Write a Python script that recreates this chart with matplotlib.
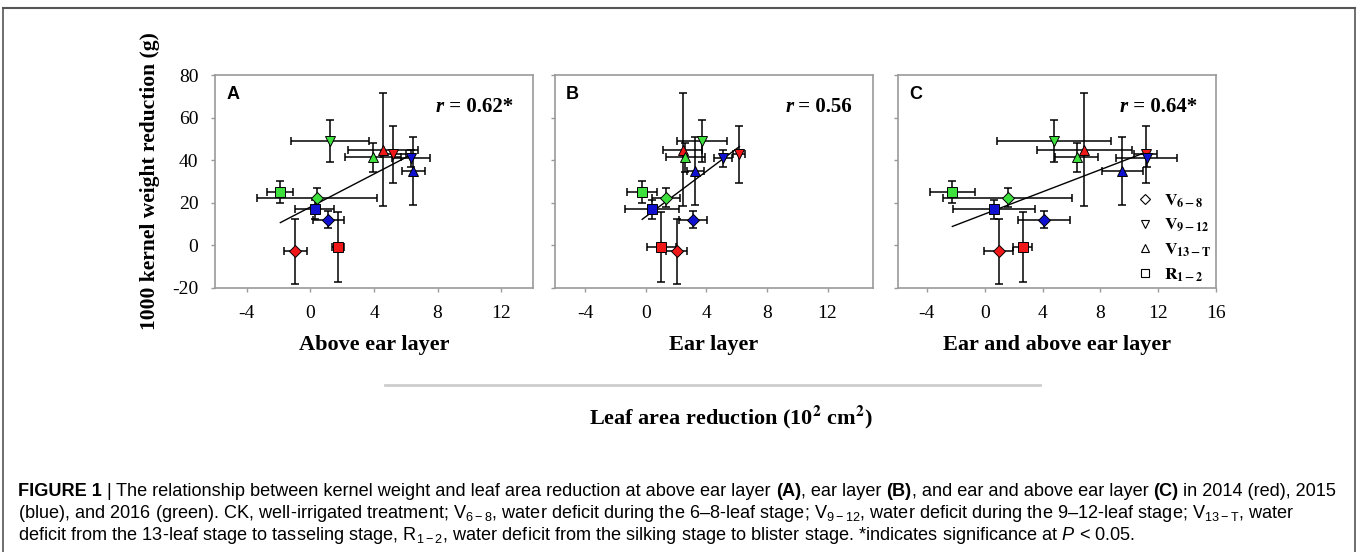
import matplotlib
matplotlib.use('Agg')
import matplotlib.pyplot as plt
from matplotlib.lines import Line2D
from matplotlib import font_manager as fm
from matplotlib.transforms import IdentityTransform
import numpy as np

# ---------------- data ----------------
stages = ['V6-8', 'V9-12', 'V13-T', 'R1-2']
stage_markers = ['D', 'v', '^', 's']
years = ['2014', '2015', '2016']
year_colors = ['#f01818', '#1010d0', '#3ee03e']

# 1000 kernel weight reduction (g), order: V6-8, V9-12, V13-T, R1-2
kwr_2014 = [-2.8, 42.7, 45.0, -0.7]
kwr_2015 = [12.1, 40.8, 34.9, 17.0]
kwr_2016 = [22.3, 49.0, 41.3, 25.1]
kwr_err_2014 = [15.3, 13.5, 26.4, 16.5]
kwr_err_2015 = [4.0, 4.0, 16.0, 4.5]
kwr_err_2016 = [4.5, 9.7, 7.0, 5.0]

# leaf area reduction (10^2 cm^2) - above ear layer
la_above_2014 = [-0.95, 5.22, 4.59, 1.73]
la_above_2015 = [1.12, 6.32, 6.48, 0.27]
la_above_2016 = [0.42, 1.26, 3.94, -1.89]
la_above_err_2014 = [0.72, 0.8, 2.2, 0.37]
la_above_err_2015 = [0.97, 1.2, 0.72, 1.23]
la_above_err_2016 = [3.8, 2.45, 1.74, 0.82]

# ear layer
la_ear_2014 = [2.04, 6.18, 2.44, 1.02]
la_ear_2015 = [3.11, 5.07, 3.27, 0.40]
la_ear_2016 = [1.31, 3.71, 2.60, -0.24]
la_ear_err_2014 = [0.7, 0.4, 1.3, 0.97]
la_ear_err_2015 = [0.93, 0.6, 0.58, 1.77]
la_ear_err_2016 = [0.92, 1.63, 1.3, 0.98]

# ear and above ear layer
la_both_2014 = [0.98, 11.15, 6.9, 2.63]
la_both_2015 = [4.09, 11.2, 9.53, 0.62]
la_both_2016 = [1.6, 4.8, 6.35, -2.24]
la_both_err_2014 = [1.0, 0.8, 3.3, 0.64]
la_both_err_2015 = [1.78, 2.1, 1.45, 2.83]
la_both_err_2016 = [4.46, 3.97, 1.5, 1.54]

panel_letters = ['A', 'B', 'C']
panel_r = ['0.62*', '0.56', '0.64*']
panel_xlabels = ['Above ear layer', 'Ear layer', 'Ear and above ear layer']
panel_xlims = [(-6, 14), (-6, 15), (-6, 16)]
panel_xticks = [[-4, 0, 4, 8, 12], [-4, 0, 4, 8, 12], [-4, 0, 4, 8, 12, 16]]
yticks = [-20, 0, 20, 40, 60, 80]

kwr = [kwr_2014, kwr_2015, kwr_2016]
kwr_err = [kwr_err_2014, kwr_err_2015, kwr_err_2016]
panel_x = [[la_above_2014, la_above_2015, la_above_2016],
           [la_ear_2014, la_ear_2015, la_ear_2016],
           [la_both_2014, la_both_2015, la_both_2016]]
panel_xerr = [[la_above_err_2014, la_above_err_2015, la_above_err_2016],
              [la_ear_err_2014, la_ear_err_2015, la_ear_err_2016],
              [la_both_err_2014, la_both_err_2015, la_both_err_2016]]

# ---------------- style ----------------
W, H = 1358, 552
SERIF = 'Liberation Serif'
names = {f.name for f in fm.fontManager.ttflist}
CAP = 'Liberation Sans Narrow' if 'Liberation Sans Narrow' in names else 'Liberation Sans'
plt.rcParams['axes.unicode_minus'] = False
plt.rcParams['mathtext.fontset'] = 'custom'
plt.rcParams['mathtext.rm'] = CAP
plt.rcParams['mathtext.it'] = CAP + ':italic'
plt.rcParams['mathtext.bf'] = CAP + ':bold'

fig = plt.figure(figsize=(W / 100, H / 100), dpi=100)
fig.patch.set_facecolor('white')
ID = IdentityTransform()

def px(x, y):
    return x, H - y

ax_left = [215, 555, 898]
ax_w, ax_top, ax_bot = 318, 75, 288
frame_col = '#9a9a9a'
MS_D, MS_O = 6.0, 6.5

for i in range(3):
    ax = fig.add_axes([ax_left[i] / W, (H - ax_bot) / H, ax_w / W, (ax_bot - ax_top) / H])
    for sp in ax.spines.values():
        sp.set_color(frame_col)
        sp.set_linewidth(1.2)
    allx, ally = [], []
    for j in range(3):
        for k in range(4):
            xv, yv = panel_x[i][j][k], kwr[j][k]
            ax.errorbar(xv, yv, xerr=panel_xerr[i][j][k], yerr=kwr_err[j][k],
                        fmt='none', ecolor='black', elinewidth=1.1, capsize=2.6,
                        capthick=1.1, zorder=2)
            ms = MS_D if stage_markers[k] == 'D' else MS_O
            ax.plot(xv, yv, marker=stage_markers[k], ls='none', ms=ms,
                    mfc=year_colors[j], mec='black', mew=0.7, zorder=3)
            allx.append(xv)
            ally.append(yv)
    allx, ally = np.array(allx), np.array(ally)
    slope, icpt = np.polyfit(allx, ally, 1)
    xx = np.array([allx.min(), allx.max()])
    ax.plot(xx, slope * xx + icpt, color='black', lw=1.0, zorder=2.5)

    ax.set_xlim(*panel_xlims[i])
    ax.set_ylim(-20, 80)
    ax.set_xticks(panel_xticks[i])
    ax.set_yticks(yticks)
    ax.tick_params(direction='out', length=3, width=1, color=frame_col,
                   labelsize=14, pad=9)
    for lab in ax.get_xticklabels() + ax.get_yticklabels():
        lab.set_family(SERIF)
    if i > 0:
        ax.set_yticklabels([])
    # panel letter
    ax.text(0.035, 0.91, panel_letters[i], transform=ax.transAxes, ha='left', va='center',
            family='Liberation Sans', fontweight='bold', fontsize=13)

    if i == 2:
        handles = [Line2D([], [], marker=m, ls='none', mfc='white', mec='black',
                          ms=(MS_D if m == 'D' else MS_O) * 0.9, mew=0.8) for m in stage_markers]
        labels = [r'$\mathbf{V}_{\mathbf{6-8}}$', r'$\mathbf{V}_{\mathbf{9-12}}$',
                  r'$\mathbf{V}_{\mathbf{13-T}}$', r'$\mathbf{R}_{\mathbf{1-2}}$']
        prop = fm.FontProperties(family=SERIF, weight='bold', size=12.5, math_fontfamily='stix')
        ax.legend(handles, labels, loc='lower right', frameon=False, prop=prop,
                  handlelength=1.0, handletextpad=0.6, labelspacing=0.42,
                  borderaxespad=0.0, borderpad=0.25)

# r values
r_right = [513, 852, 1197]
renderer = fig.canvas.get_renderer()
for i in range(3):
    x, y = px(r_right[i], 107)
    t = fig.text(x, y, ' = ' + panel_r[i], transform=ID, ha='right', va='center',
                 family=SERIF, fontweight='bold', fontsize=15)
    bb = t.get_window_extent(renderer)
    fig.text(bb.x0, y, 'r', transform=ID, ha='right', va='center',
             family=SERIF, fontweight='bold', style='italic', fontsize=15)

# x labels for panels
for i in range(3):
    x, y = px(ax_left[i] + ax_w / 2, 345)
    fig.text(x, y, panel_xlabels[i], transform=ID, ha='center', va='center',
             family=SERIF, fontweight='bold', fontsize=16)

# y label
x, y = px(150, 181)
fig.text(x, y, '1000 kernel weight reduction (g)', transform=ID, rotation=90,
         ha='center', va='center', family=SERIF, fontweight='bold', fontsize=15.5)

# separator and common x label
fig.add_artist(Line2D([385, 1040], [H - 385, H - 385], transform=ID, color='#cdcdcd', lw=2))
x, y = px(731, 417)
fig.text(x, y, r'Leaf area reduction (10$^{\mathbf{2}}$ cm$^{\mathbf{2}}$)', transform=ID,
         ha='center', va='center', family=SERIF, fontweight='bold', fontsize=16,
         math_fontfamily='stix')

# outer frame
fig.add_artist(Line2D([3, 1355], [H - 8, H - 8], transform=ID, color='#555555', lw=1.5))
fig.add_artist(Line2D([3, 3], [0, H - 8], transform=ID, color='#555555', lw=1.2))
fig.add_artist(Line2D([1355, 1355], [0, H - 8], transform=ID, color='#555555', lw=1.2))

# caption
cap_lines = [
    ['FIGURE 1 ', ('|', 'normal'), ' The relationship between kernel weight and leaf area reduction at above ear layer ',
     ('(A)', 'bold'), ', ear layer ', ('(B)', 'bold'), ', and ear and above ear layer ',
     ('(C)', 'bold'), ' in 2014 (red), 2015'],
    ['(blue), and 2016 (green). CK, well-irrigated treatment; V$_{6-8}$, water deficit during the 6\u20138-leaf stage; '
     'V$_{9-12}$, water deficit during the 9\u201312-leaf stage; V$_{13-\\mathrm{T}}$, water'],
    ['deficit from the 13-leaf stage to tasseling stage, R$_{1-2}$, water deficit from the silking stage to '
     'blister stage. *indicates significance at $P$ < 0.05.'],
]

def norm_runs(line, first_bold=False):
    out = []
    for n, r in enumerate(line):
        if isinstance(r, tuple):
            out.append(r)
        else:
            w = 'bold' if (first_bold and n == 0) else 'normal'
            out.append((r, w))
    return out

def width_of(s, size, w):
    t = fig.text(0, 0, s, transform=ID, fontsize=size, fontweight=w, family=CAP,
                 math_fontfamily='custom')
    bb = t.get_window_extent(renderer)
    t.remove()
    return bb.width

def draw_line(runs, x0, ybase, size, draw=True):
    sp = width_of('a a', size, 'normal') - width_of('aa', size, 'normal')
    x = x0
    for s, w in runs:
        lead = len(s) - len(s.lstrip(' '))
        trail = len(s) - len(s.rstrip(' '))
        core = s.strip(' ')
        x += lead * sp
        if core:
            if draw:
                fig.text(x, ybase, core, transform=ID, fontsize=size, fontweight=w,
                         family=CAP, va='baseline', ha='left', math_fontfamily='custom')
            x += width_of(core, size, w)
        x += trail * sp
    return x - x0

line_runs = [norm_runs(cap_lines[0], first_bold=True), norm_runs(cap_lines[1]), norm_runs(cap_lines[2])]
base = 10.0
wl = draw_line(line_runs[0], 0, 0, base, draw=False)
size = base * (1340 - 18) / wl
for n, ybl in enumerate([496, 518, 540]):
    draw_line(line_runs[n], 18, H - ybl, size)

fig.savefig('out.png', dpi=100, facecolor='white')
